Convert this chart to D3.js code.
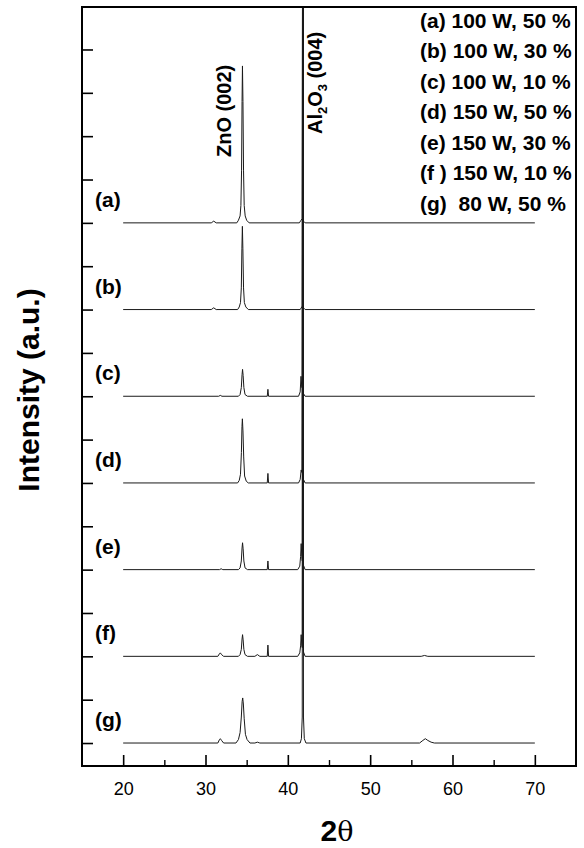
<!DOCTYPE html>
<html lang="en">

<head>
  <meta charset="UTF-8">
  <title>XRD patterns</title>
  <script src="https://d3js.org/d3.v7.min.js"></script>
  <style>
    body {
      margin: 0;
      background: #fff;
    }

    text {
      font-family: "Liberation Sans", Arial, sans-serif;
      fill: #000;
    }
  </style>
</head>

<body>
  <div id="my_dataviz"></div>
  <script>

    // sample names, legend entries and vertical offset of each pattern
    const sampleLabels = ["(a)", "(b)", "(c)", "(d)", "(e)", "(f)", "(g)"];
    const legendLabels = ["(a) 100 W, 50 %", "(b) 100 W, 30 %", "(c) 100 W, 10 %",
      "(d) 150 W, 50 %", "(e) 150 W, 30 %", "(f ) 150 W, 10 %", "(g)  80 W, 50 %"];
    const offsets = [6, 5, 4, 3, 2, 1, 0];

    // ticks
    const xMajorTicks = [20, 30, 40, 50, 60, 70];
    const xMinorTicks = [25, 35, 45, 55, 65];
    const yTicks = [0, 0.5, 1, 1.5, 2, 2.5, 3, 3.5, 4, 4.5, 5, 5.5, 6, 6.5, 7, 7.5, 8];

    // patterns: [2theta, intensity (a.u.)]
    const traceA = [[20, 0], [30.7, 0], [31.0, 0.02], [31.3, 0], [33.8, 0], [34.0, 0.03], [34.2, 0.08], [34.3, 0.2],
      [34.38, 0.6], [34.44, 1.4], [34.49, 1.81], [34.55, 1.4], [34.62, 0.6], [34.7, 0.2], [34.82, 0.08],
      [35.0, 0.03], [35.3, 0], [41.4, 0], [41.6, 0.03], [41.76, 0.05], [41.82, 9], [41.9, 0.02], [42.1, 0], [70, 0]];
    const traceB = [[20, 0], [30.7, 0], [31.0, 0.02], [31.3, 0], [33.9, 0], [34.1, 0.03], [34.25, 0.08], [34.35, 0.25],
      [34.42, 0.7], [34.48, 0.96], [34.54, 0.7], [34.62, 0.25], [34.72, 0.08], [34.9, 0.03], [35.2, 0],
      [41.5, 0], [41.76, 0.04], [41.82, 9], [41.9, 0.02], [42.1, 0], [70, 0]];
    const traceC = [[20, 0], [31.6, 0], [31.8, 0.01], [32.0, 0], [34.0, 0], [34.2, 0.02], [34.35, 0.1], [34.44, 0.25],
      [34.5, 0.31], [34.57, 0.24], [34.66, 0.1], [34.8, 0.02], [35.1, 0], [37.5, 0], [37.58, 0.08], [37.66, 0],
      [41.3, 0], [41.5, 0.05], [41.6, 0.23], [41.7, 0.1], [41.76, 0.1], [41.82, 9], [41.9, 0.03], [42.1, 0], [70, 0]];
    const traceD = [[20, 0], [33.9, 0], [34.1, 0.03], [34.25, 0.1], [34.36, 0.35], [34.43, 0.65], [34.48, 0.74],
      [34.55, 0.6], [34.64, 0.3], [34.75, 0.08], [34.95, 0.02], [35.2, 0], [37.5, 0], [37.58, 0.11], [37.66, 0],
      [41.3, 0], [41.5, 0.04], [41.62, 0.15], [41.72, 0.12], [41.82, 9], [41.9, 0.04], [42.1, 0], [70, 0]];
    const traceE = [[20, 0], [31.7, 0], [31.9, 0.01], [32.1, 0], [34.0, 0], [34.2, 0.02], [34.35, 0.1], [34.44, 0.25],
      [34.5, 0.31], [34.57, 0.24], [34.66, 0.1], [34.8, 0.02], [35.1, 0], [37.5, 0], [37.58, 0.1], [37.66, 0],
      [41.2, 0], [41.45, 0.04], [41.55, 0.15], [41.62, 0.3], [41.7, 0.15], [41.76, 0.1], [41.82, 9], [41.9, 0.05],
      [42.1, 0], [70, 0]];
    const traceF = [[20, 0], [31.5, 0], [31.7, 0.03], [31.8, 0.04], [31.95, 0.02], [32.2, 0], [34.0, 0], [34.2, 0.02],
      [34.35, 0.08], [34.44, 0.2], [34.5, 0.25], [34.57, 0.19], [34.66, 0.08], [34.8, 0.02], [35.1, 0],
      [36.0, 0], [36.3, 0.02], [36.6, 0], [37.5, 0], [37.58, 0.13], [37.66, 0], [41.2, 0], [41.45, 0.04],
      [41.55, 0.12], [41.62, 0.25], [41.7, 0.12], [41.76, 0.1], [41.82, 9], [41.9, 0.05], [42.1, 0],
      [56.2, 0], [56.6, 0.01], [57.0, 0], [70, 0]];
    const traceG = [[20, 0], [31.5, 0], [31.7, 0.04], [31.8, 0.05], [31.95, 0.03], [32.2, 0], [33.7, 0], [34.0, 0.04],
      [34.2, 0.12], [34.35, 0.3], [34.45, 0.48], [34.52, 0.52], [34.6, 0.45], [34.7, 0.28], [34.85, 0.1],
      [35.05, 0.04], [35.4, 0], [36.0, 0], [36.3, 0.01], [36.6, 0], [41.5, 0], [41.65, 0.05], [41.75, 0.3],
      [41.82, 9], [41.9, 0.3], [42.0, 0.05], [42.2, 0], [56.0, 0], [56.4, 0.03], [56.7, 0.05], [57.0, 0.03],
      [57.4, 0.01], [57.8, 0], [70, 0]];
    const traces = [traceA, traceB, traceC, traceD, traceE, traceF, traceG];

    // set the dimensions and margins of the graph
    const margin = { top: 7, right: 8, bottom: 82, left: 82 },
      width = 584 - margin.left - margin.right,
      height = 848 - margin.top - margin.bottom;

    const svg = d3.select("#my_dataviz")
      .append("svg")
      .attr("width", width + margin.left + margin.right)
      .attr("height", height + margin.top + margin.bottom)
      .append("g")
      .attr("transform", `translate(${margin.left},${margin.top})`);

    const x = d3.scaleLinear().domain([15, 75]).range([0, width]);
    const y = d3.scaleLinear().domain([-0.265, 8.49]).range([height, 0]);

    svg.append("clipPath")
      .attr("id", "plotClip")
      .append("rect")
      .attr("width", width)
      .attr("height", height);

    // patterns, stacked
    const line = d3.line()
      .x(d => x(d[0]))
      .y(d => d.y);

    svg.append("g")
      .attr("clip-path", "url(#plotClip)")
      .selectAll("path")
      .data(traces)
      .join("path")
      .attr("fill", "none")
      .attr("stroke", "#1a1a1a")
      .attr("stroke-width", 1)
      .attr("d", (t, i) => line(t.map(p => ({ 0: p[0], y: y(p[1] + offsets[i]) }))));

    // x axis, ticks pointing inward
    svg.append("g")
      .attr("transform", `translate(0,${height})`)
      .call(d3.axisBottom(x).tickValues(xMajorTicks).tickSizeInner(-11).tickSizeOuter(0).tickPadding(16))
      .call(g => g.select(".domain").remove())
      .call(g => g.selectAll("line").attr("stroke", "#000").attr("stroke-width", 1.6))
      .call(g => g.selectAll("text").attr("font-size", 18).attr("font-family", "Liberation Sans, Arial, sans-serif"));

    svg.append("g")
      .attr("transform", `translate(0,${height})`)
      .call(d3.axisBottom(x).tickValues(xMinorTicks).tickSizeInner(-6).tickSizeOuter(0).tickFormat(""))
      .call(g => g.select(".domain").remove())
      .call(g => g.selectAll("line").attr("stroke", "#000").attr("stroke-width", 1.4));

    // y axis, no labels
    svg.append("g")
      .call(d3.axisLeft(y).tickValues(yTicks).tickSizeInner(-11).tickSizeOuter(0).tickFormat(""))
      .call(g => g.select(".domain").remove())
      .call(g => g.selectAll("line").attr("stroke", "#000").attr("stroke-width", 1.6));

    // frame
    svg.append("rect")
      .attr("width", width)
      .attr("height", height)
      .attr("fill", "none")
      .attr("stroke", "#000")
      .attr("stroke-width", 2);

    // sample labels
    svg.selectAll(".sample")
      .data(sampleLabels)
      .join("text")
      .attr("class", "sample")
      .attr("x", 13)
      .attr("y", (d, i) => y(offsets[i]) - 16)
      .attr("font-size", 21)
      .attr("font-weight", "bold")
      .text(d => d);

    // legend
    svg.selectAll(".legend")
      .data(legendLabels)
      .join("text")
      .attr("class", "legend")
      .attr("x", 338)
      .attr("y", (d, i) => 20.5 + i * 30.5)
      .attr("font-size", 21)
      .attr("font-weight", "bold")
      .attr("xml:space", "preserve")
      .style("white-space", "pre")
      .text(d => d);

    // peak labels
    svg.append("text")
      .attr("transform", `translate(${x(34.5) - 12},150) rotate(-90)`)
      .attr("font-size", 20)
      .attr("font-weight", "bold")
      .text("ZnO (002)");

    const al = svg.append("text")
      .attr("transform", `translate(${x(41.82) + 19},127) rotate(-90)`)
      .attr("font-size", 20)
      .attr("font-weight", "bold");
    al.append("tspan").text("Al");
    al.append("tspan").attr("font-size", 13).attr("dy", 5).text("2");
    al.append("tspan").attr("dy", -5).text("O");
    al.append("tspan").attr("font-size", 13).attr("dy", 5).text("3");
    al.append("tspan").attr("dy", -5).text(" (004)");

    // axis titles
    svg.append("text")
      .attr("transform", `translate(-43,383) rotate(-90)`)
      .attr("text-anchor", "middle")
      .attr("font-size", 30)
      .attr("font-weight", "bold")
      .text("Intensity (a.u.)");

    const xt = svg.append("text")
      .attr("x", width / 2 + 8)
      .attr("y", height + 75)
      .attr("text-anchor", "middle")
      .attr("font-size", 30);
    xt.append("tspan").attr("font-weight", "bold").text("2");
    xt.append("tspan").attr("font-family", "DejaVu Serif, serif").attr("font-size", 27).text("θ");

  </script>
</body>

</html>
